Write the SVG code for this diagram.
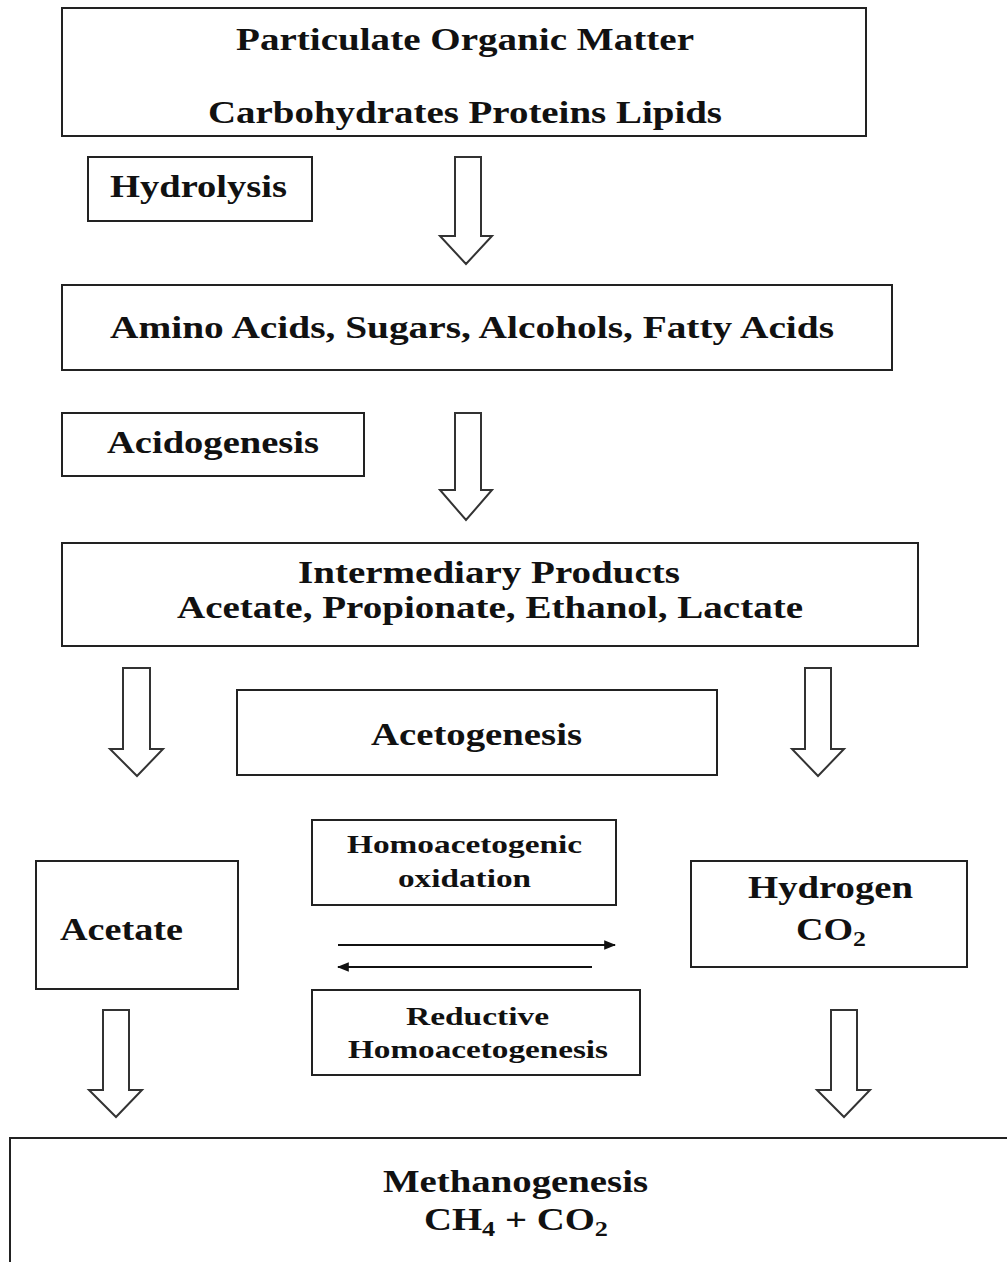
<svg xmlns="http://www.w3.org/2000/svg" width="1007" height="1262" viewBox="0 0 1007 1262">
<style>
.box{fill:#fff;stroke:#222;stroke-width:2}
.blk{fill:#fff;stroke:#333;stroke-width:2;stroke-linejoin:miter}
.t{font-family:"Liberation Serif","Times New Roman",serif;font-weight:bold;fill:#111;text-anchor:start}
.ln{stroke:#111;stroke-width:2;fill:none}
</style>
<defs>
<marker id="ah" viewBox="0 0 10 10" refX="9" refY="5" markerWidth="6" markerHeight="6" orient="auto" markerUnits="strokeWidth">
<path d="M0,1 L10,5 L0,9 Z" fill="#111"/>
</marker>
</defs>
<rect width="1007" height="1262" fill="#fff"/>

<g id="pom">
<rect class="box" x="62" y="8" width="804" height="128"/>
<text class="t" x="236" y="50" font-size="31" textLength="458" lengthAdjust="spacingAndGlyphs">Particulate Organic Matter</text>
<text class="t" x="208" y="123" font-size="31" textLength="514" lengthAdjust="spacingAndGlyphs">Carbohydrates Proteins Lipids</text>
</g>
<g id="hydrolysis">
<rect class="box" x="88" y="157" width="224" height="64"/>
<text class="t" x="110" y="197" font-size="31" textLength="177" lengthAdjust="spacingAndGlyphs">Hydrolysis</text>
</g>
<g id="amino">
<rect class="box" x="62" y="285" width="830" height="85"/>
<text class="t" x="110" y="338" font-size="31" textLength="724" lengthAdjust="spacingAndGlyphs">Amino Acids, Sugars, Alcohols, Fatty Acids</text>
</g>
<g id="acidogenesis">
<rect class="box" x="62" y="413" width="302" height="63"/>
<text class="t" x="107" y="453" font-size="31" textLength="212" lengthAdjust="spacingAndGlyphs">Acidogenesis</text>
</g>
<g id="intermediary">
<rect class="box" x="62" y="543" width="856" height="103"/>
<text class="t" x="298" y="583" font-size="31" textLength="382" lengthAdjust="spacingAndGlyphs">Intermediary Products</text>
<text class="t" x="177" y="618" font-size="31" textLength="626" lengthAdjust="spacingAndGlyphs">Acetate, Propionate, Ethanol, Lactate</text>
</g>
<g id="acetogenesis">
<rect class="box" x="237" y="690" width="480" height="85"/>
<text class="t" x="371" y="745" font-size="31" textLength="211" lengthAdjust="spacingAndGlyphs">Acetogenesis</text>
</g>
<g id="homoacetogenic">
<rect class="box" x="312" y="820" width="304" height="85"/>
<text class="t" x="347" y="853" font-size="26" textLength="235" lengthAdjust="spacingAndGlyphs">Homoacetogenic</text>
<text class="t" x="398" y="887" font-size="26" textLength="133" lengthAdjust="spacingAndGlyphs">oxidation</text>
</g>
<g id="acetate">
<rect class="box" x="36" y="861" width="202" height="128"/>
<text class="t" x="60" y="940" font-size="31" textLength="123" lengthAdjust="spacingAndGlyphs">Acetate</text>
</g>
<g id="hydrogen">
<rect class="box" x="691" y="861" width="276" height="106"/>
<text class="t" x="748" y="898" font-size="31" textLength="165" lengthAdjust="spacingAndGlyphs">Hydrogen</text>
<text class="t" x="796" y="940" font-size="31" textLength="70" lengthAdjust="spacingAndGlyphs">CO<tspan font-size="21" dy="6">2</tspan></text>
</g>
<g id="reductive">
<rect class="box" x="312" y="990" width="328" height="85"/>
<text class="t" x="406" y="1025" font-size="26" textLength="143" lengthAdjust="spacingAndGlyphs">Reductive</text>
<text class="t" x="348" y="1058" font-size="26" textLength="260" lengthAdjust="spacingAndGlyphs">Homoacetogenesis</text>
</g>
<g id="methanogenesis">
<rect class="box" x="10" y="1138" width="1010" height="140"/>
<text class="t" x="383" y="1192" font-size="31" textLength="265" lengthAdjust="spacingAndGlyphs">Methanogenesis</text>
<text class="t" x="424" y="1230" font-size="31" textLength="184" lengthAdjust="spacingAndGlyphs">CH<tspan font-size="21" dy="6">4</tspan><tspan dy="-6"> + CO</tspan><tspan font-size="21" dy="6">2</tspan></text>
</g>

<g id="connectors">
<polygon class="blk" points="455,157 481,157 481,236 492,236 466,264 440,236 455,236"/>
<polygon class="blk" points="455,413 481,413 481,490 492,490 466,520 440,490 455,490"/>
<polygon class="blk" points="123,668 150,668 150,749 163,749 137,776 110,749 123,749"/>
<polygon class="blk" points="805,668 831,668 831,749 844,749 818,776 792,749 805,749"/>
<polygon class="blk" points="103,1010 129,1010 129,1090 142,1090 116,1117 89,1090 103,1090"/>
<polygon class="blk" points="831,1010 857,1010 857,1090 870,1090 844,1117 817,1090 831,1090"/>
<line class="ln" x1="338" y1="945" x2="615" y2="945" marker-end="url(#ah)"/>
<line class="ln" x1="592" y1="967" x2="338" y2="967" marker-end="url(#ah)"/>
</g>
</svg>
